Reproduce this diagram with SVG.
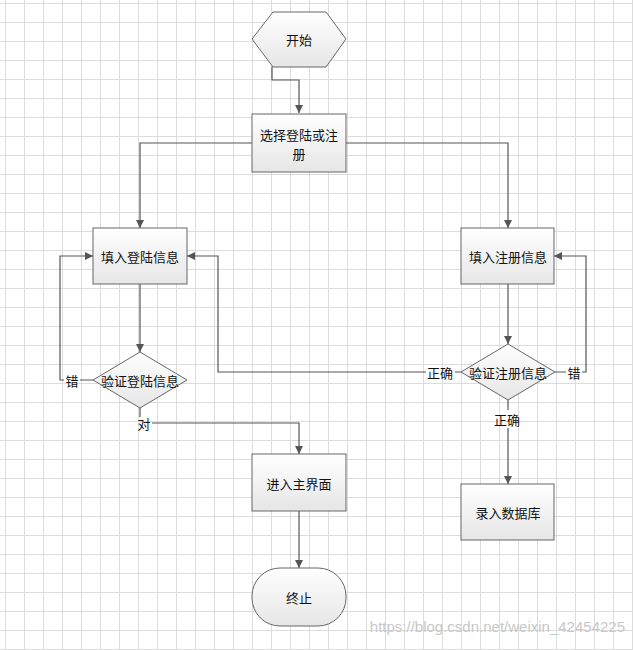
<svg xmlns="http://www.w3.org/2000/svg" width="633" height="650" viewBox="0 0 633 650">
<defs>
<pattern id="grid" width="19" height="19" patternUnits="userSpaceOnUse" x="5" y="3">
<path d="M0 0.5H19M0.5 0V19" fill="none" stroke="#dcdcdc" stroke-width="1"/>
</pattern>
<linearGradient id="g" x1="0" y1="0" x2="0" y2="1"><stop offset="0" stop-color="#ffffff"/><stop offset="1" stop-color="#e6e6e6"/></linearGradient>
<marker id="a" viewBox="0 0 10 10" refX="10" refY="5" markerWidth="8" markerHeight="8" orient="auto" markerUnits="userSpaceOnUse"><path d="M0 0L10 5L0 10z" fill="#555"/></marker>
</defs>
<style>
.n{fill:url(#g);stroke:#666;stroke-width:1}
.t{font-family:"Noto Sans CJK SC","Liberation Sans",sans-serif;font-size:13px;fill:#111;text-anchor:middle;dominant-baseline:central}
.c path{fill:none;stroke:#555;stroke-width:1.2}
.c text{font-family:"Noto Sans CJK SC","Liberation Sans",sans-serif;font-size:13px;fill:#111;text-anchor:middle;dominant-baseline:central}
</style>
<rect width="633" height="650" fill="#fff"/>
<rect width="633" height="650" fill="url(#grid)"/>
<g class="c" id="connectors">
<path d="M272 67V80H299V113" marker-end="url(#a)"/>
<path d="M252 143H140V228" marker-end="url(#a)"/>
<path d="M346 143H508V228" marker-end="url(#a)"/>
<path d="M140 284V352" marker-end="url(#a)"/>
<path d="M93 380H80M64 380H60V256H93" marker-end="url(#a)"/>
<text x="72" y="380">错</text>
<path d="M140 408V417"/>
<text x="144" y="423">对</text>
<path d="M152 423H299V454" marker-end="url(#a)"/>
<path d="M299 511V568" marker-end="url(#a)"/>
<path d="M508 284V344" marker-end="url(#a)"/>
<path d="M461 372H455M426 372H218V256H187" marker-end="url(#a)"/>
<text x="440" y="372">正确</text>
<path d="M555 372H566M582 372H586V256H554" marker-end="url(#a)"/>
<text x="574" y="372">错</text>
<path d="M508 400V410"/>
<text x="507" y="419">正确</text>
<path d="M508 428V484" marker-end="url(#a)"/>
</g>
<g id="start"><polygon class="n" points="252,39 273,12 326,12 346,39 326,67 273,67"/><text class="t" x="299" y="39">开始</text></g>
<g id="choose"><rect class="n" x="252" y="114" width="94" height="58"/><text class="t" x="299" y="134">选择登陆或注</text><text class="t" x="299" y="153">册</text></g>
<g id="loginInput"><rect class="n" x="93" y="228" width="94" height="56"/><text class="t" x="140" y="256">填入登陆信息</text></g>
<g id="regInput"><rect class="n" x="461" y="228" width="93" height="56"/><text class="t" x="508" y="256">填入注册信息</text></g>
<g id="loginCheck"><polygon class="n" points="140,352 187,380 140,408 93,380"/><text class="t" x="140" y="380">验证登陆信息</text></g>
<g id="regCheck"><polygon class="n" points="508,344 555,372 508,400 461,372"/><text class="t" x="508" y="372">验证注册信息</text></g>
<g id="main"><rect class="n" x="252" y="454" width="94" height="57"/><text class="t" x="299" y="483">进入主界面</text></g>
<g id="db"><rect class="n" x="461" y="484" width="93" height="56"/><text class="t" x="508" y="512">录入数据库</text></g>
<g id="end"><rect class="n" x="252" y="568" width="94" height="58" rx="28"/><text class="t" x="299" y="597">终止</text></g>
<text x="625" y="632" font-family="Liberation Sans,sans-serif" font-size="15" fill="#c8c8c8" text-anchor="end">https://blog.csdn.net/weixin_42454225</text>
</svg>
